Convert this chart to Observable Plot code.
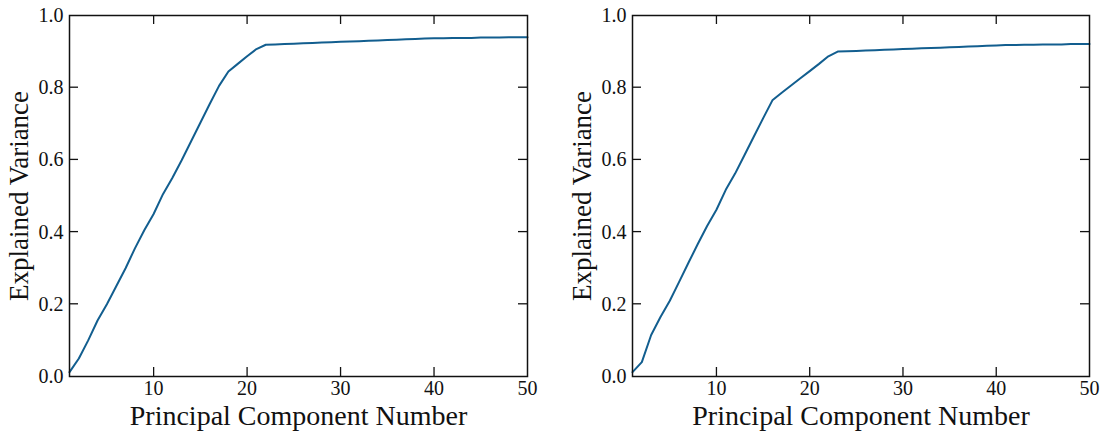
<!DOCTYPE html>
<html>
<head>
<meta charset="utf-8">
<script src="https://cdn.jsdelivr.net/npm/d3@7"></script>
<script src="https://cdn.jsdelivr.net/npm/@observablehq/plot@0.6"></script>
<style>
  html, body { margin: 0; padding: 0; background: #fff; }
  #wrap { position: relative; width: 1117px; height: 435px; }
  #wrap > div { position: absolute; top: 0; }
</style>
</head>
<body>
<div id="wrap"><div id="left"></div><div id="right"></div></div>
<script>
// Component numbers 1..50
const components = d3.range(1, 51);

// Left panel: cumulative explained variance
const leftVariance = [
  0.012, 0.05, 0.10, 0.155, 0.20, 0.25, 0.30, 0.355, 0.405, 0.45,
  0.505, 0.55, 0.599, 0.651, 0.703, 0.755, 0.805, 0.845, 0.866, 0.887,
  0.907, 0.919, 0.920, 0.921, 0.922, 0.923, 0.924, 0.925, 0.926, 0.927,
  0.928, 0.929, 0.930, 0.931, 0.932, 0.933, 0.934, 0.935, 0.936, 0.937,
  0.937, 0.938, 0.938, 0.938, 0.939, 0.939, 0.939, 0.940, 0.940, 0.940
];

// Right panel: cumulative explained variance
const rightVariance = [
  0.012, 0.04, 0.115, 0.165, 0.21, 0.262, 0.315, 0.367, 0.417, 0.462,
  0.517, 0.562, 0.613, 0.664, 0.715, 0.765, 0.786, 0.806, 0.826, 0.846,
  0.866, 0.887, 0.900, 0.901, 0.902, 0.903, 0.904, 0.905, 0.906, 0.907,
  0.908, 0.909, 0.910, 0.911, 0.912, 0.913, 0.914, 0.915, 0.916, 0.917,
  0.918, 0.918, 0.919, 0.919, 0.920, 0.920, 0.920, 0.921, 0.921, 0.921
];

const xTicks = [10, 20, 30, 40, 50];
const yTicks = [0, 0.2, 0.4, 0.6, 0.8, 1.0];
const xLabel = "Principal Component Number";
const yLabel = "Explained Variance";

function panel(values, width, marginLeft, marginRight) {
  const data = components.map((c, i) => ({c, v: values[i]}));
  const height = 435, marginTop = 15, marginBottom = 59;
  const frameH = height - marginTop - marginBottom;
  const tickLen = 9;
  const innerX = xTicks.filter(d => d < 50);
  const innerY = yTicks.filter(d => d > 0 && d < 1);
  return Plot.plot({
    width, height, marginLeft, marginRight, marginTop, marginBottom,
    style: {fontFamily: "'Liberation Serif', serif", fontSize: "20px", color: "#111", background: "#fff"},
    x: {domain: [1, 50]},
    y: {domain: [0, 1]},
    marks: [
      Plot.axisX({ticks: xTicks, tickSize: 0, tickPadding: 4, tickFormat: d => String(d), fontSize: 20, label: null}),
      Plot.axisY({ticks: yTicks, tickSize: 0, tickPadding: 6, tickFormat: d3.format(".1f"), fontSize: 20, label: null}),
      Plot.tickX(innerX, {x: d => d, insetTop: frameH - tickLen, stroke: "#111", strokeWidth: 1.3}),
      Plot.tickX(innerX, {x: d => d, insetBottom: frameH - tickLen, stroke: "#111", strokeWidth: 1.3}),
      Plot.line(data, {x: "c", y: "v", stroke: "#125e8f", strokeWidth: 2}),
      Plot.frame({stroke: "#111", strokeWidth: 1.5}),
      Plot.text([xLabel], {frameAnchor: "bottom", dy: 40, text: d => d, fontSize: 28, lineAnchor: "middle", fill: "#111"}),
      Plot.text([yLabel], {frameAnchor: "left", dx: -50, rotate: -90, text: d => d, fontSize: 27, textAnchor: "middle", lineAnchor: "middle", fill: "#111"}),
      // inward y ticks on both left and right spines
      Plot.ruleY(innerY, {y: d => d, stroke: "#111", strokeWidth: 1.3,
        render: (index, scales, values, dims) => {
          const g = d3.create("svg:g");
          const y = scales.y;
          for (const i of index) {
            const yy = y(innerY[i]);
            g.append("line").attr("x1", dims.marginLeft).attr("x2", dims.marginLeft + tickLen).attr("y1", yy).attr("y2", yy).attr("stroke", "#111").attr("stroke-width", 1.3);
            g.append("line").attr("x1", dims.width - dims.marginRight).attr("x2", dims.width - dims.marginRight - tickLen).attr("y1", yy).attr("y2", yy).attr("stroke", "#111").attr("stroke-width", 1.3);
          }
          return g.node();
        }})
    ]
  });
}

const leftDiv = document.getElementById("left");
const rightDiv = document.getElementById("right");
leftDiv.style.left = "0px";
rightDiv.style.left = "558px";
leftDiv.appendChild(panel(leftVariance, 558, 69, 31));
rightDiv.appendChild(panel(rightVariance, 559, 74, 28));
</script>
</body>
</html>
